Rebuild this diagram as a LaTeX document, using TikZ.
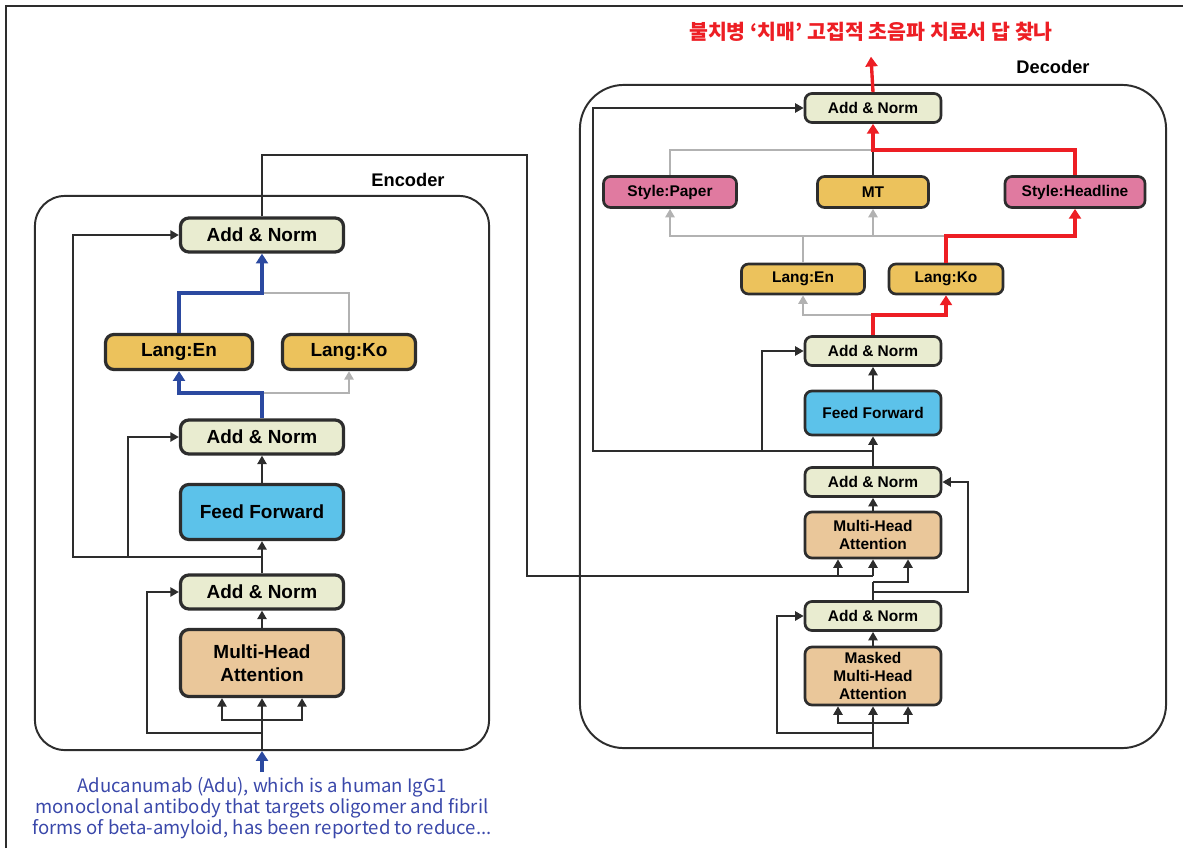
\documentclass[tikz,border=0pt]{standalone}
\usepackage{fontspec}
\setmainfont{Liberation Sans}
\newfontfamily\kofont{Noto Sans CJK KR}
\usetikzlibrary{arrows.meta}

\definecolor{anfill}{RGB}{233,236,208}
\definecolor{langfill}{RGB}{236,194,92}
\definecolor{fffill}{RGB}{92,194,234}
\definecolor{mhafill}{RGB}{234,199,154}
\definecolor{stylefill}{RGB}{224,122,160}
\definecolor{pathblue}{RGB}{43,73,160}
\definecolor{pathred}{RGB}{237,30,36}
\definecolor{pathgray}{RGB}{178,178,178}
\definecolor{txtblue}{RGB}{58,72,170}
\definecolor{edge}{RGB}{45,45,45}

\begin{document}
\begin{tikzpicture}[x=0.025cm,y=-0.025cm]

\tikzset{%
  blk/.style={draw=edge,line width=2.3pt,rounded corners=6pt,inner sep=0pt,align=center,
    font=\bfseries\fontsize{13.5}{16}\selectfont},
  dblk/.style={blk,line width=1.9pt,rounded corners=5pt,font=\bfseries\fontsize{11}{13}\selectfont},
  enc/.style={blk,minimum width=4.075cm},
  dec/.style={dblk,minimum width=3.4cm},
  an/.style={fill=anfill},
  lang/.style={fill=langfill},
  ff/.style={fill=fffill},
  mha/.style={fill=mhafill},
  sty/.style={fill=stylefill},
  cont/.style={draw=edge,line width=1.4pt,inner sep=0pt},
  lbl/.style={font=\bfseries\fontsize{13}{15}\selectfont},
}
\tikzset{%
  line/.style={draw=edge,line width=1.3pt},
  arr/.style={line,-{Triangle[length=6pt,width=6.5pt]}},
  grayline/.style={draw=pathgray,line width=1.4pt},
  grayarr/.style={grayline,-{Triangle[length=6pt,width=6.5pt]}},
  bluearr/.style={draw=pathblue,line width=2.4pt,-{Triangle[length=7pt,width=8.5pt]}},
  redarr/.style={draw=pathred,line width=2.4pt,-{Triangle[length=7pt,width=8.5pt]}},
}

\useasboundingbox (0,0) rectangle (1183,848);
\draw[line width=1.2pt,edge] (6,848) -- (6,6) -- (1183,6);

% encoder
\node[cont,rounded corners=0.75cm,minimum width=11.35cm,minimum height=13.85cm] (enc) at (262,473) {};
\node[lbl] (encLbl) at (408,180) {Encoder};

\node[enc,mha,minimum height=1.675cm] (eMHA) at (262,663) {Multi-Head\\Attention};
\node[enc,an,minimum height=0.85cm] (eAN1) at (262,592) {Add \& Norm};
\node[enc,ff,minimum height=1.375cm] (eFF) at (262,512) {Feed Forward};
\node[enc,an,minimum height=0.85cm] (eAN2) at (262,437) {Add \& Norm};
\node[blk,lang,minimum width=3.675cm,minimum height=0.875cm] (eEn) at (179,352) {Lang:En};
\node[blk,lang,minimum width=3.325cm,minimum height=0.875cm] (eKo) at (349,352) {Lang:Ko};
\node[enc,an,minimum height=0.85cm] (eAN3) at (262,235) {Add \& Norm};

\node[text=txtblue,align=center,font=\kofont\fontsize{13.2}{15}\selectfont] (eIn) at (262,808)
  {Aducanumab (Adu), which is a human IgG1\\monoclonal antibody that targets oligomer and fibril\\forms of beta-amyloid, has been reported to reduce...};
\draw[bluearr] (eIn.north) -- (enc.south);

\coordinate (eSplit) at (262,720);
\coordinate (eRes) at (262,733);
\coordinate (eResL) at (147,733);
\draw[line] (enc.south) -- (eSplit);
\draw[arr] (eSplit) -- (eMHA.south);
\draw[arr] (eSplit) -| ([xshift=-1cm]eMHA.south);
\draw[arr] (eSplit) -| ([xshift=1cm]eMHA.south);
\draw[arr] (eRes) -- (eResL) |- (eAN1.west);
\draw[arr] (eMHA.north) -- (eAN1.south);
\draw[arr] (eAN1.north) -- (eFF.south);

\coordinate (eBr) at (262,557);
\coordinate (eBrA) at (128,557);
\coordinate (eBrB) at (73,557);
\draw[arr] (eBr) -- (eBrA) |- (eAN2.west);
\draw[arr] (eBrA) -- (eBrB) |- (eAN3.west);
\draw[arr] (eFF.north) -- (eAN2.south);

\coordinate (eLg) at (262,393);
\coordinate (eJ) at (262,293);
\draw[grayarr] (eLg) -| (eKo.south);
\draw[grayline] (eKo.north) |- (eJ);
\draw[bluearr] (eAN2.north) -- (eLg) -| (eEn.south);
\draw[bluearr] (eEn.north) |- (eJ) -- (eAN3.south);

% decoder
\node[cont,rounded corners=1.1cm,minimum width=14.65cm,minimum height=16.575cm] (dec) at (873,416.5) {};
\node[lbl] (decLbl) at (1053,67) {Decoder};

\node[dec,mha,minimum height=1.45cm] (dMasked) at (873,676) {Masked\\Multi-Head\\Attention};
\node[dec,an,minimum height=0.725cm] (dAN1) at (873,616) {Add \& Norm};
\node[dec,mha,minimum height=1.15cm] (dMHA) at (873,535) {Multi-Head\\Attention};
\node[dec,an,minimum height=0.725cm] (dAN2) at (873,482) {Add \& Norm};
\node[dec,ff,minimum height=1.1cm] (dFF) at (873,413) {Feed Forward};
\node[dec,an,minimum height=0.725cm] (dAN3) at (873,351) {Add \& Norm};
\node[dblk,lang,minimum width=3.075cm,minimum height=0.75cm] (dEn) at (803,279) {Lang:En};
\node[dblk,lang,minimum width=2.85cm,minimum height=0.75cm] (dKo) at (946,279) {Lang:Ko};
\node[dblk,sty,minimum width=3.325cm,minimum height=0.775cm] (dPaper) at (670,192) {Style:Paper};
\node[dblk,lang,minimum width=2.775cm,minimum height=0.775cm] (dMT) at (873,192) {MT};
\node[dblk,sty,minimum width=3.5cm,minimum height=0.775cm] (dHead) at (1075,192) {Style:Headline};
\node[dec,an,minimum height=0.725cm] (dAN4) at (873,108) {Add \& Norm};

\node[text=pathred,font=\kofont\bfseries\fontsize{14.6}{16}\selectfont] (title) at (871,32)
  {불치병 ‘치매’ 고집적 초음파 치료서 답 찾나};

\coordinate (eOut1) at (262,155);
\coordinate (eOut2) at (527,155);
\coordinate (eOut3) at (527,576);
\coordinate (dK) at (873,576);
\draw[line] (eAN3.north) -- (eOut1) -- (eOut2) -- (eOut3) -- (dK);
\draw[arr] (dK) -- (dMHA.south);
\draw[arr] (dK) -| ([xshift=-0.875cm]dMHA.south);

\coordinate (dSplit) at (873,723);
\coordinate (dRes) at (873,733);
\coordinate (dResL) at (777,733);
\draw[line] (dec.south) -- (dSplit);
\draw[arr] (dSplit) -- (dMasked.south);
\draw[arr] (dSplit) -| ([xshift=-0.875cm]dMasked.south);
\draw[arr] (dSplit) -| ([xshift=0.875cm]dMasked.south);
\draw[arr] (dRes) -- (dResL) |- (dAN1.west);
\draw[arr] (dMasked.north) -- (dAN1.south);

\coordinate (dB) at (873,582);
\coordinate (dA) at (873,592);
\coordinate (dAR) at (968,592);
\draw[line] (dAN1.north) -- (dB);
\draw[arr] (dA) -- (dAR) |- (dAN2.east);
\draw[arr] (dB) -| ([xshift=0.875cm]dMHA.south);
\draw[arr] (dMHA.north) -- (dAN2.south);
\draw[arr] (dAN2.north) -- (dFF.south);

\coordinate (dBr) at (873,451);
\coordinate (dBrA) at (762,451);
\coordinate (dBrB) at (593,451);
\draw[arr] (dBr) -- (dBrA) |- (dAN3.west);
\draw[arr] (dBrA) -- (dBrB) |- (dAN4.west);
\draw[arr] (dFF.north) -- (dAN3.south);

\coordinate (dLg) at (873,315);
\coordinate (dEnJ) at (803,236);
\coordinate (dKoJ) at (946,236);
\coordinate (dTop) at (873,150);
\draw[grayarr] (dLg) -| (dEn.south);
\draw[redarr] (dAN3.north) -- (dLg) -| (dKo.south);
\draw[grayarr] (dEn.north) -- (dEnJ) -| (dPaper.south);
\draw[grayarr] (dEnJ) -| (dMT.south);
\draw[grayline] (dKo.north) -- (dKoJ) -- (dEnJ);
\draw[redarr] (dKo.north) -- (dKoJ) -| (dHead.south);
\draw[grayline] (dPaper.north) |- (dTop);
\draw[line] (dMT.north) -- (dTop);
\draw[redarr] (dHead.north) |- (dTop) -- (dAN4.south);
\draw[redarr] (dAN4.north) -- ([yshift=-0.25cm]title.south);

\end{tikzpicture}
\end{document}
